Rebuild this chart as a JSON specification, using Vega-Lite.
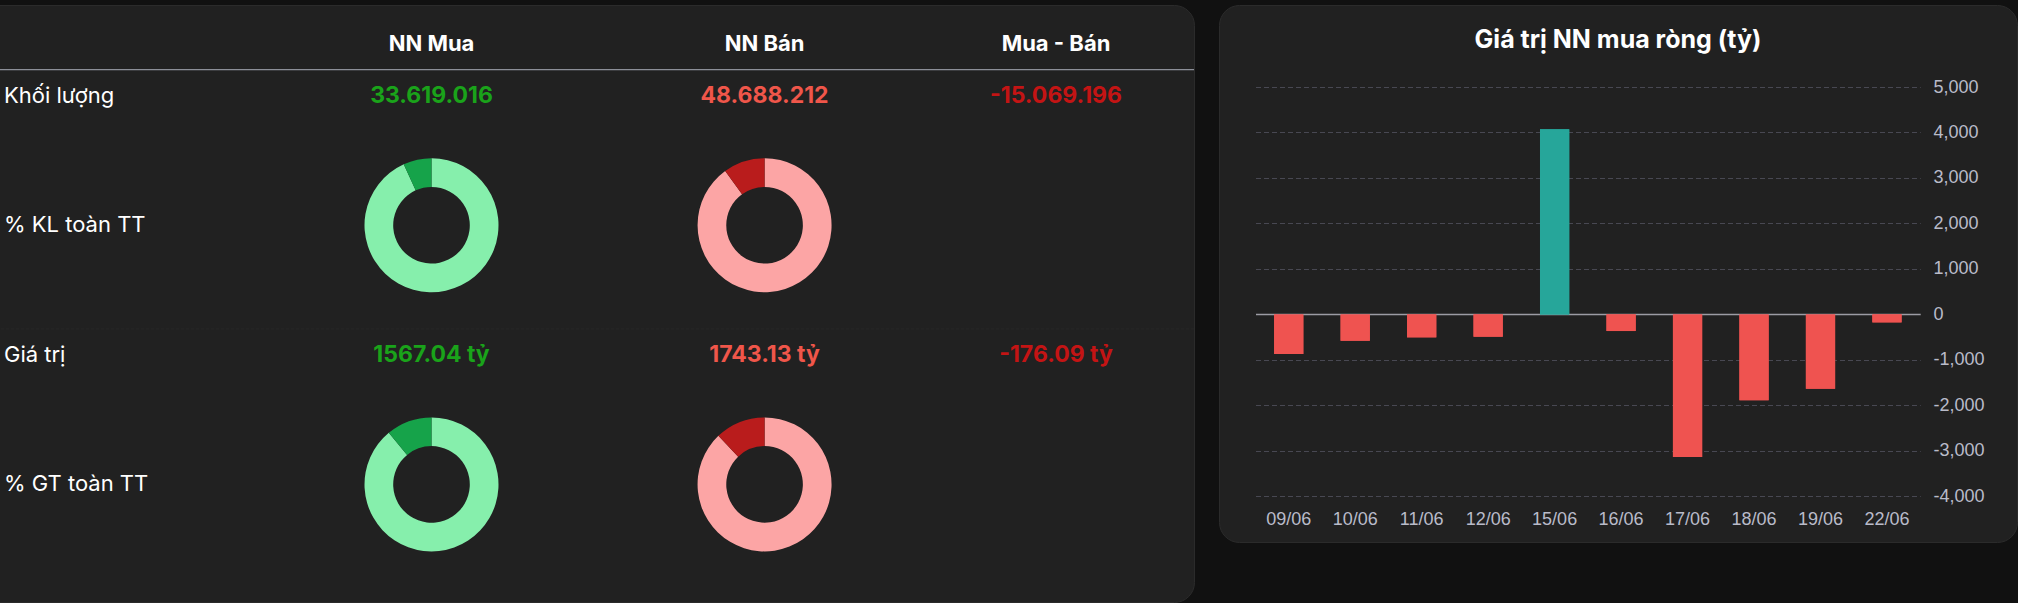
{
  "$schema": "https://vega.github.io/schema/vega-lite/v6.json",
  "background": "#111111",
  "padding": {"left": -25, "top": 4, "right": 0, "bottom": 0},
  "spacing": 23,
  "config": {
    "view": {"fill": "#212121", "stroke": "#2b2b2b", "cornerRadius": 20}
  },
  "datasets": {
    "labels": [
      {"col": "label", "row": "kl", "text": "Khối lượng"},
      {"col": "label", "row": "klpct", "text": "% KL toàn TT"},
      {"col": "label", "row": "gt", "text": "Giá trị"},
      {"col": "label", "row": "gtpct", "text": "% GT toàn TT"}
    ],
    "headers": [
      {"col": "buy", "row": "head", "text": "NN Mua"},
      {"col": "sell", "row": "head", "text": "NN Bán"},
      {"col": "net", "row": "head", "text": "Mua - Bán"}
    ],
    "values": [
      {"col": "buy", "row": "kl", "text": "33.619.016", "kind": "buy"},
      {"col": "sell", "row": "kl", "text": "48.688.212", "kind": "sell"},
      {"col": "net", "row": "kl", "text": "-15.069.196", "kind": "net"},
      {"col": "buy", "row": "gt", "text": "1567.04 tỷ", "kind": "buy"},
      {"col": "sell", "row": "gt", "text": "1743.13 tỷ", "kind": "sell"},
      {"col": "net", "row": "gt", "text": "-176.09 tỷ", "kind": "net"}
    ],
    "donuts": [
      {"col": "buy", "row": "klpct", "kind": "buyRest", "ord": 1, "pct": 93.2},
      {"col": "buy", "row": "klpct", "kind": "buyShare", "ord": 2, "pct": 6.8},
      {"col": "sell", "row": "klpct", "kind": "sellRest", "ord": 1, "pct": 90.0},
      {"col": "sell", "row": "klpct", "kind": "sellShare", "ord": 2, "pct": 10.0},
      {"col": "buy", "row": "gtpct", "kind": "buyRest", "ord": 1, "pct": 89.0},
      {"col": "buy", "row": "gtpct", "kind": "buyShare", "ord": 2, "pct": 11.0},
      {"col": "sell", "row": "gtpct", "kind": "sellRest", "ord": 1, "pct": 87.9},
      {"col": "sell", "row": "gtpct", "kind": "sellShare", "ord": 2, "pct": 12.1}
    ],
    "lines": [
      {"row": "line", "kind": "header"}
    ],
    "seps": [
      {"row": "sep", "kind": "separator"}
    ],
    "net": [
      {"date": "09/06", "value": -870},
      {"date": "10/06", "value": -578},
      {"date": "11/06", "value": -505},
      {"date": "12/06", "value": -491},
      {"date": "15/06", "value": 4073},
      {"date": "16/06", "value": -366},
      {"date": "17/06", "value": -3136},
      {"date": "18/06", "value": -1890},
      {"date": "19/06", "value": -1633},
      {"date": "22/06", "value": -176.09}
    ]
  },
  "hconcat": [
    {
      "width": 1218,
      "height": 597,
      "resolve": {"scale": {"x": "independent"}},
      "layer": [
        {
          "data": {"name": "lines"},
          "mark": {"type": "rule", "color": "#a9adb8", "strokeWidth": 1},
          "encoding": {
            "y": {"field": "row", "type": "nominal", "axis": null,
              "scale": {"type": "point", "padding": 0, "range": [38.8, 479.4],
                "domain": ["head", "line", "kl", "y1", "y2", "y3", "y4", "klpct", "y5", "y6", "y7", "sep", "gt", "y8", "y9", "y10", "y11", "gtpct"]}}
          }
        },
        {
          "data": {"name": "seps"},
          "mark": {"type": "rule", "color": "#272727", "strokeWidth": 1, "strokeDash": [3, 2]},
          "encoding": {
            "y": {"field": "row", "type": "nominal", "axis": null,
              "scale": {"type": "point", "padding": 0, "range": [38.8, 479.4],
                "domain": ["head", "line", "kl", "y1", "y2", "y3", "y4", "klpct", "y5", "y6", "y7", "sep", "gt", "y8", "y9", "y10", "y11", "gtpct"]}}
          }
        },
        {
          "data": {"name": "labels"},
          "mark": {"type": "text", "align": "left", "baseline": "middle", "font": "Inter", "fontSize": 22, "fontWeight": "normal", "color": "#ffffff"},
          "encoding": {
            "x": {"field": "col", "type": "nominal", "axis": null,
              "scale": {"type": "point", "padding": 0, "domain": ["label"], "range": [28, 28]}},
            "y": {"field": "row", "type": "nominal", "axis": null,
              "scale": {"type": "point", "padding": 0, "range": [38.8, 479.4],
                "domain": ["head", "line", "kl", "y1", "y2", "y3", "y4", "klpct", "y5", "y6", "y7", "sep", "gt", "y8", "y9", "y10", "y11", "gtpct"]}},
            "text": {"field": "text", "type": "nominal"}
          }
        },
        {
          "data": {"name": "headers"},
          "mark": {"type": "text", "align": "center", "baseline": "middle", "font": "Inter", "fontSize": 22, "fontWeight": "bold", "color": "#ffffff"},
          "encoding": {
            "x": {"field": "col", "type": "nominal", "axis": null,
              "scale": {"type": "point", "padding": 0, "range": [455.5, 1080],
                "domain": ["buy", "x1", "x2", "x3", "x4", "x5", "x6", "x7", "sell", "x8", "x9", "x10", "x11", "x12", "x13", "net"]}},
            "y": {"field": "row", "type": "nominal", "axis": null,
              "scale": {"type": "point", "padding": 0, "range": [38.8, 479.4],
                "domain": ["head", "line", "kl", "y1", "y2", "y3", "y4", "klpct", "y5", "y6", "y7", "sep", "gt", "y8", "y9", "y10", "y11", "gtpct"]}},
            "text": {"field": "text", "type": "nominal"}
          }
        },
        {
          "data": {"name": "values"},
          "mark": {"type": "text", "align": "center", "baseline": "middle", "font": "Inter", "fontSize": 23, "fontWeight": "bold"},
          "encoding": {
            "x": {"field": "col", "type": "nominal", "axis": null,
              "scale": {"type": "point", "padding": 0, "range": [455.5, 1080],
                "domain": ["buy", "x1", "x2", "x3", "x4", "x5", "x6", "x7", "sell", "x8", "x9", "x10", "x11", "x12", "x13", "net"]}},
            "y": {"field": "row", "type": "nominal", "axis": null,
              "scale": {"type": "point", "padding": 0, "range": [38.8, 479.4],
                "domain": ["head", "line", "kl", "y1", "y2", "y3", "y4", "klpct", "y5", "y6", "y7", "sep", "gt", "y8", "y9", "y10", "y11", "gtpct"]}},
            "text": {"field": "text", "type": "nominal"},
            "color": {"field": "kind", "type": "nominal", "legend": null,
              "scale": {"domain": ["buy", "sell", "net", "buyShare", "buyRest", "sellShare", "sellRest"],
                "range": ["#1aa31a", "#f0564a", "#c41414", "#16a34a", "#86efac", "#b91c1c", "#fca5a5"]}}
          }
        },
        {
          "data": {"name": "donuts"},
          "transform": [
            {"stack": "pct", "groupby": ["col", "row"], "sort": [{"field": "ord", "order": "ascending"}], "as": ["t0", "t1"]}
          ],
          "mark": {"type": "arc", "outerRadius": 67, "innerRadius": 38.3},
          "encoding": {
            "x": {"field": "col", "type": "nominal", "axis": null,
              "scale": {"type": "point", "padding": 0, "range": [455.5, 1080],
                "domain": ["buy", "x1", "x2", "x3", "x4", "x5", "x6", "x7", "sell", "x8", "x9", "x10", "x11", "x12", "x13", "net"]}},
            "y": {"field": "row", "type": "nominal", "axis": null,
              "scale": {"type": "point", "padding": 0, "range": [38.8, 479.4],
                "domain": ["head", "line", "kl", "y1", "y2", "y3", "y4", "klpct", "y5", "y6", "y7", "sep", "gt", "y8", "y9", "y10", "y11", "gtpct"]}},
            "theta": {"field": "t0", "type": "quantitative", "stack": null, "scale": {"domain": [0, 100]}},
            "theta2": {"field": "t1"},
            "color": {"field": "kind", "type": "nominal", "legend": null,
              "scale": {"domain": ["buy", "sell", "net", "buyShare", "buyRest", "sellShare", "sellRest"],
                "range": ["#1aa31a", "#f0564a", "#c41414", "#16a34a", "#86efac", "#b91c1c", "#fca5a5"]}}
          }
        }
      ]
    },
    {
      "width": 798,
      "height": 537,
      "data": {"name": "net"},
      "title": {"text": "Giá trị NN mua ròng (tỷ)", "color": "#ffffff", "font": "Inter", "fontSize": 25, "fontWeight": "bold", "anchor": "middle", "frame": "group", "offset": -48},
      "resolve": {"axis": {"y": "independent"}},
      "layer": [
        {
          "mark": {"type": "bar", "width": {"band": 0.44}},
          "encoding": {
            "x": {"field": "date", "type": "nominal", "sort": null, "title": null,
              "scale": {"type": "band", "range": [36.5, 701.2], "paddingInner": 0, "paddingOuter": 0},
              "axis": {"orient": "bottom", "offset": -23, "ticks": false, "domain": false, "grid": false, "labelPadding": 0,
                "labelBaseline": "middle", "labelAngle": 0, "labelColor": "#b9bbc9", "labelFont": "Liberation Sans", "labelFontSize": 18}},
            "y": {"field": "value", "type": "quantitative", "title": null,
              "scale": {"domain": [-4000, 5000], "range": [491.3, 82], "nice": false},
              "axis": {"orient": "left", "offset": 0, "ticks": false, "domain": false, "labels": false,
                "values": [-4000, -3000, -2000, -1000, 0, 1000, 2000, 3000, 4000, 5000],
                "grid": true,
                "gridColor": {"condition": {"test": "datum.value === 0", "value": "#9c9ca4"}, "value": "#484852"},
                "gridDash": {"condition": {"test": "datum.value === 0", "value": []}, "value": [5, 3]},
                "gridWidth": {"condition": {"test": "datum.value === 0", "value": 1.5}, "value": 1}}},
            "color": {"condition": {"test": "datum.value >= 0", "value": "#26a69a"}, "value": "#ef5350"}
          }
        },
        {
          "mark": {"type": "bar", "width": {"band": 0.44}},
          "encoding": {
            "x": {"field": "date", "type": "nominal", "sort": null, "title": null,
              "scale": {"type": "band", "range": [36.5, 701.2], "paddingInner": 0, "paddingOuter": 0}},
            "y": {"field": "value", "type": "quantitative", "title": null,
              "scale": {"domain": [-4000, 5000], "range": [491.3, 82], "nice": false},
              "axis": {"orient": "right", "offset": 0, "ticks": false, "domain": false, "labelPadding": -84, "grid": false,
                "values": [-4000, -3000, -2000, -1000, 0, 1000, 2000, 3000, 4000, 5000],
                "labelExpr": "replace(format(datum.value, ','), '\u2212', '-')",
                "labelColor": "#b9bbc9", "labelFont": "Liberation Sans", "labelFontSize": 18, "labelAlign": "left"}},
            "color": {"condition": {"test": "datum.value >= 0", "value": "#26a69a"}, "value": "#ef5350"}
          }
        }
      ]
    }
  ]
}
